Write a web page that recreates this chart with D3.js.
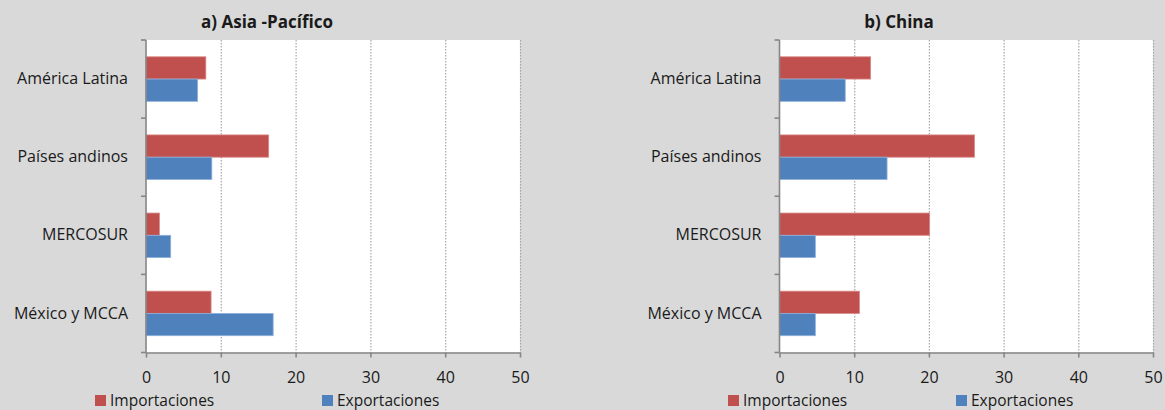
<!DOCTYPE html>
<html lang="es">
<head>
<meta charset="UTF-8">
<title>Asia-Pacífico y China</title>
<script src="https://cdn.jsdelivr.net/npm/d3@7"></script>
<style>
	body { margin: 0; background: #d9d9d9; }
	text { font-family: "Open Sans", sans-serif; fill: #1a1a1a; }
</style>
</head>
<body>
<script>
// datos
const categories = ["América Latina", "Países andinos", "MERCOSUR", "México y MCCA"];
const seriesNames = ["Importaciones", "Exportaciones"];
const asiaImport = [8.0, 16.4, 1.8, 8.7];
const asiaExport = [6.9, 8.8, 3.3, 17.0];
const chinaImport = [12.2, 26.1, 20.1, 10.7];
const chinaExport = [8.8, 14.4, 4.8, 4.8];
const xTicks = [0, 10, 20, 30, 40, 50];
const titles = ["a) Asia -Pacífico", "b) China"];

const W = 1165, H = 410;
const colors = ["#c0504d", "#4f81bd"];
const strokes = ["#d98a88", "#8fb0dc"];

const svg = d3.select("body").append("svg")
	.attr("width", W)
	.attr("height", H);

svg.append("rect").attr("width", W).attr("height", H).attr("fill", "#d9d9d9");

function panel(left, right, title, titleX, imp, exp, legX) {
	const top = 40, bottom = 352.5;
	const g = svg.append("g");

	const x = d3.scaleLinear().domain([0, 50]).range([left, right]);
	const y = d3.scaleBand().domain(categories).range([top, bottom])
		.paddingInner(0.43).paddingOuter(0.215);

	g.append("rect")
		.attr("x", left).attr("y", top)
		.attr("width", right - left).attr("height", bottom - top)
		.attr("fill", "white");

	// grid
	g.append("g")
		.attr("transform", `translate(0,${top})`)
		.call(d3.axisBottom(x).tickValues(xTicks.slice(1)).tickSize(bottom - top).tickFormat(""))
		.call(a => a.select(".domain").remove())
		.selectAll("line")
		.attr("stroke", "#a6a6a6")
		.attr("stroke-width", 1.2)
		.attr("stroke-dasharray", "1.5,1.5");

	const bh = y.bandwidth() / 2;
	const rows = categories.map((c, i) => ({ c: c, v: [imp[i], exp[i]] }));

	[0, 1].forEach(k => {
		g.selectAll(null)
			.data(rows)
			.enter()
			.append("rect")
			.attr("x", x(0))
			.attr("y", d => y(d.c) + k * bh)
			.attr("width", d => x(d.v[k]) - x(0))
			.attr("height", bh)
			.attr("fill", colors[k])
			.attr("stroke", strokes[k])
			.attr("stroke-width", 0.8);
	});

	// eje x
	const xa = g.append("g")
		.attr("transform", `translate(0,${bottom})`)
		.call(d3.axisBottom(x).tickValues(xTicks).tickSize(5).tickPadding(14).tickSizeOuter(0));
	xa.select(".domain").attr("stroke", "#868686").attr("stroke-width", 1.6);
	xa.selectAll("line").attr("stroke", "#868686").attr("stroke-width", 1.6);
	xa.selectAll("text").attr("font-size", 16).attr("fill", "#1a1a1a")
		.attr("font-family", "'Open Sans', sans-serif");

	// eje y: etiquetas al centro, marcas en los limites
	const ya = g.append("g")
		.attr("transform", `translate(${left},0)`)
		.call(d3.axisLeft(y).tickSize(0).tickPadding(18));
	ya.select(".domain").remove();
	ya.selectAll("text").attr("font-size", 16).attr("fill", "#1a1a1a")
		.attr("font-family", "'Open Sans', sans-serif");

	const bounds = categories.map(c => y(c) - y.step() * y.paddingInner() / 2).concat([bottom]);
	g.selectAll(null)
		.data(bounds)
		.enter()
		.append("line")
		.attr("x1", left - 5).attr("x2", left)
		.attr("y1", d => d).attr("y2", d => d)
		.attr("stroke", "#868686").attr("stroke-width", 1.6);
	g.append("line")
		.attr("x1", left).attr("x2", left)
		.attr("y1", top).attr("y2", bottom)
		.attr("stroke", "#868686").attr("stroke-width", 1.6);

	g.append("text")
		.attr("x", titleX).attr("y", 28)
		.attr("text-anchor", "middle")
		.attr("font-weight", "bold")
		.attr("font-size", 17)
		.text(title);

	// leyenda
	const lg = g.selectAll(null)
		.data(seriesNames)
		.enter()
		.append("g")
		.attr("transform", (d, i) => `translate(${legX[i]},395)`);
	lg.append("rect")
		.attr("width", 11).attr("height", 11)
		.attr("fill", (d, i) => colors[i]);
	lg.append("text")
		.attr("x", 15).attr("y", 11)
		.attr("font-size", 15.5)
		.text(d => d);
}

panel(146, 520, titles[0], 267, asiaImport, asiaExport, [95, 322]);
panel(779.5, 1153, titles[1], 899, chinaImport, chinaExport, [728, 956]);
</script>
</body>
</html>
